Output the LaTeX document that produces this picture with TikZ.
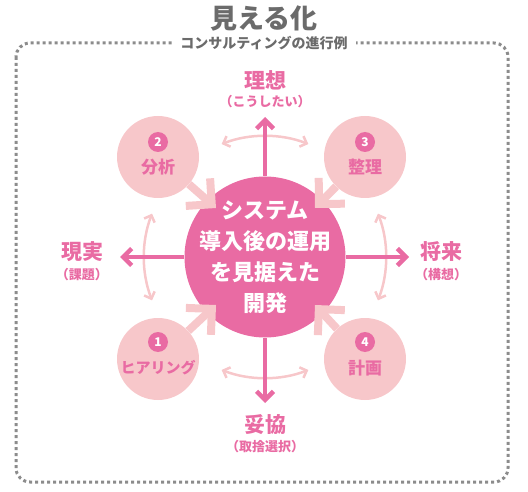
\documentclass[tikz,border=0pt]{standalone}
\usepackage{fontspec}
\setmainfont{Noto Sans CJK JP}
\usetikzlibrary{arrows.meta}
\usetikzlibrary{positioning}
\definecolor{pinkdark}{HTML}{E96BA3}
\definecolor{pinklight}{HTML}{F7C7CA}
\definecolor{graytext}{HTML}{6B6B6B}
\definecolor{grayline}{HTML}{8C8C8C}
\tikzset{
  stepdisc/.style={circle, fill=pinklight, minimum size=82pt, inner sep=0pt},
  badge/.style={circle, fill=pinkdark, text=white, minimum size=20pt, inner sep=0pt,
    font=\fontsize{12}{12}\selectfont\bfseries},
  steplabel/.style={text=pinkdark, inner sep=0pt, font=\fontsize{17}{17}\selectfont\bfseries},
  goal/.style={text=pinkdark, inner sep=0pt, font=\fontsize{21}{21}\selectfont\bfseries},
  goalsub/.style={text=pinkdark, inner sep=0pt, font=\fontsize{13}{13}\selectfont\bfseries},
  darkarrow/.style={pinkdark, line width=4.5pt, -{Straight Barb[angle=90:12pt]}},
  fatarrow/.style={pinklight, line width=8pt, -{Straight Barb[angle=90:26pt]}},
  arcarrow/.style={pinklight, line width=2.5pt,
    {Straight Barb[angle=90:8pt]}-{Straight Barb[angle=90:8pt]}}
}
\begin{document}
\begin{tikzpicture}[x=1pt, y=-1pt]
  \useasboundingbox (0,0) rectangle (528,492);
  % frame and titles
  \draw[grayline, line width=3pt, dash pattern=on 3pt off 3pt, rounded corners=14pt] (16,43) rectangle (508,482);
  \node[text=graytext, font=\fontsize{27}{27}\selectfont\bfseries] (title) at (264,18) {見える化};
  \node[fill=white, text=graytext, inner xsep=8pt, inner ysep=2pt, font=\fontsize{14}{14}\selectfont\bfseries] (subtitle) at (264,43) {コンサルティングの進行例};

  % center
  \node[circle, fill=pinkdark, minimum size=161pt, inner sep=0pt] (sys) at (265,257) {};
  \node[text=white, align=center, inner sep=0pt,
    font=\fontsize{22}{31}\selectfont\bfseries] (systext) at (sys.center) {システム\\導入後の運用\\を見据えた\\開発};

  % four goals
  \node[goal] (ideal) at (265,80) {理想};
  \node[goalsub] (idealsub) at (265,102) {（こうしたい）};
  \node[goal] (real) at (82,252) {現実};
  \node[goalsub] (realsub) at (82,275) {（課題）};
  \node[goal] (future) at (441,252) {将来};
  \node[goalsub] (futuresub) at (441,275) {（構想）};
  \node[goal] (comp) at (265,425) {妥協};
  \node[goalsub] (compsub) at (265,447) {（取捨選択）};

  \coordinate (uptip) at (265,117);
  \coordinate (downtip) at (265,403);
  \coordinate (lefttip) at (120,257);
  \coordinate (righttip) at (409,257);

  % curved double arrows
  \foreach \a in {0,90,180,270}
    \draw[arcarrow] ([shift={(\a-21:121)}]sys.center) arc[start angle=\a-21, end angle=\a+21, radius=121];

  \draw[darkarrow] (sys) -- (uptip);
  \draw[darkarrow] (sys) -- (downtip);
  \draw[darkarrow] (sys) -- (lefttip);
  \draw[darkarrow] (sys) -- (righttip);

  % steps
  \node[stepdisc] (s1) at (158,359) {};
  \node[stepdisc] (s2) at (158,157) {};
  \node[stepdisc] (s3) at (365,157) {};
  \node[stepdisc] (s4) at (365,359) {};

  \coordinate (t1) at (216,305);
  \coordinate (t2) at (216,208);
  \coordinate (t3) at (315,208);
  \coordinate (t4) at (315,305);
  \draw[fatarrow] (s1) -- (t1);
  \draw[fatarrow] (s2) -- (t2);
  \draw[fatarrow] (s3) -- (t3);
  \draw[fatarrow] (s4) -- (t4);

  \node[badge] (b1) at ([yshift=17pt]s1.center) {1};
  \node[steplabel, font=\fontsize{15}{15}\selectfont\bfseries] (l1) at ([yshift=-9pt]s1.center) {ヒアリング};
  \node[badge] (b2) at ([yshift=15pt]s2.center) {2};
  \node[steplabel] (l2) at ([yshift=-10pt]s2.center) {分析};
  \node[badge] (b3) at ([yshift=15pt]s3.center) {3};
  \node[steplabel] (l3) at ([yshift=-10pt]s3.center) {整理};
  \node[badge] (b4) at ([yshift=17pt]s4.center) {4};
  \node[steplabel] (l4) at ([yshift=-9pt]s4.center) {計画};
\end{tikzpicture}
\end{document}
